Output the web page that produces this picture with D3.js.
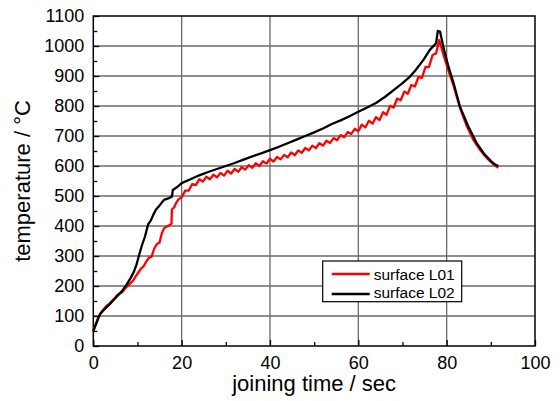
<!DOCTYPE html>
<meta charset="utf-8">
<script src="https://d3js.org/d3.v7.min.js"></script>
<style>
  body { margin: 0; background: #fff; }
  text { font-family: Arial, "Liberation Sans", sans-serif; fill: #000; }
</style>
<div id="my_dataviz"></div>
<script>
// surface L01 (red) - time in sec, temperature in degC
var timeL01 = [0, 0.5, 1, 1.5, 2.3, 3, 3.6, 4.2, 4.8, 5.3, 6, 6.6, 7.2, 7.8, 8.3, 9, 9.6, 10.2, 10.8, 11.4, 12, 12.6, 13.2, 13.8, 14.4, 15, 15.5, 16, 16.6, 17.2, 17.7, 17.8, 18.3, 18.8, 19.2, 19.6,
  20.0, 20.8, 21.6, 22.4, 23.2, 24.0, 24.8, 25.6, 26.4, 27.2, 28.0, 28.8, 29.6, 30.4, 31.2, 32.0, 32.8, 33.6, 34.4, 35.2, 36.0, 36.8, 37.6, 38.4, 39.2,
  40.0, 40.8, 41.6, 42.4, 43.2, 44.0, 44.8, 45.6, 46.4, 47.2, 48.0, 48.8, 49.6, 50.4, 51.2, 52.0, 52.8, 53.6, 54.4, 55.2, 56.0, 56.8, 57.6, 58.4, 59.2,
  60.0, 60.8, 61.6, 62.4, 63.2, 64.0, 64.8, 65.6, 66.4, 67.2, 68.0, 68.8, 69.6, 70.4, 71.2, 72.0, 72.8, 73.6, 74.4, 75.2, 76.0, 76.8, 77.6,
  78.0, 78.3, 78.6, 79.5, 80.4, 81.5, 83, 84.5, 86, 87.5, 89, 90.6, 91.3, 91.7];
var tempL01 = [50, 72, 90, 105, 122, 134, 140, 150, 158, 168, 175, 180, 192, 200, 208, 218, 232, 245, 258, 266, 282, 294, 298, 325, 340, 345, 375, 392, 398, 402, 408, 455, 462, 478, 487, 492,
  496, 518, 518, 540, 536, 556, 548, 564, 556, 571, 562, 577, 568, 584, 575, 590, 581, 596, 588, 603, 594, 609, 600, 616, 608,
  624, 615, 630, 622, 637, 629, 645, 636, 652, 644, 660, 652, 668, 660, 676, 668, 684, 677, 693, 686, 703, 696, 713, 707, 724,
  716, 738, 729, 751, 741, 763, 753, 779, 771, 801, 795, 825, 819, 848, 841, 870, 865, 896, 894, 930, 930, 970, 975,
  1000, 1020, 1005, 960, 918, 870, 795, 735, 688, 655, 628, 605, 598, 594];

// surface L02 (black)
var timeL02 = [0, 0.6, 1.2, 1.6, 2.5, 3.5, 4.5, 5.5, 6.5, 7.6, 8.5, 9.2, 9.8, 10.4, 11, 11.7, 12.4, 13, 13.6, 14.2, 14.8, 15.5, 16.1, 17, 17.8, 18.0, 19, 20,
  22, 24, 26, 28, 30, 32, 34, 36, 38, 40, 42, 44, 46, 48, 50, 52, 54, 56, 58, 60, 62, 64, 66, 68, 70, 71.7, 73, 74.7, 76.2, 77.6,
  78.0, 78.5, 79.2, 80.4, 81.5, 83, 84.8, 86.8, 88.5, 90, 90.6, 91.2, 91.7];
var tempL02 = [50, 72, 95, 108, 122, 136, 152, 168, 183, 206, 228, 248, 272, 305, 335, 365, 405, 418, 438, 455, 465, 478, 488, 492, 498, 520, 530, 543,
  556, 569, 580, 590, 600, 610, 621, 632, 642, 653, 664, 676, 688, 700, 712, 725, 740, 752, 766, 781, 795, 810, 830, 853, 876, 898, 920, 953, 987, 1009,
  1050, 1048, 1000, 931, 880, 798, 735, 676, 640, 617, 609, 603, 600];

var xTicks = [0, 20, 40, 60, 80, 100];
var yTicks = [0, 100, 200, 300, 400, 500, 600, 700, 800, 900, 1000, 1100];
var seriesNames = ["surface L01", "surface L02"];
var seriesColors = ["#ff0000", "#000000"];

var W = 560, H = 401;
var margin = {top: 16, right: 25, bottom: 55, left: 93.3};
var width = 535 - margin.left, height = 346 - margin.top;

var svg = d3.select("#my_dataviz").append("svg")
    .attr("width", W).attr("height", H)
  .append("g")
    .attr("transform", "translate(" + margin.left + "," + margin.top + ")");

var x = d3.scaleLinear().domain([0, 100]).range([0, width]);
var y = d3.scaleLinear().domain([0, 1100]).range([height, 0]);

// grid
svg.append("g").selectAll("line").data(xTicks.slice(1, -1)).enter().append("line")
  .attr("x1", d => x(d)).attr("x2", d => x(d)).attr("y1", 0).attr("y2", height)
  .attr("stroke", "#6a6a6a").attr("stroke-width", 1.3);
svg.append("g").selectAll("line").data(yTicks.slice(1, -1)).enter().append("line")
  .attr("y1", d => y(d)).attr("y2", d => y(d)).attr("x1", 0).attr("x2", width)
  .attr("stroke", "#6a6a6a").attr("stroke-width", 1.3);

// axes with inward ticks
var xAxis = svg.append("g").attr("transform", "translate(0," + height + ")")
  .call(d3.axisBottom(x).tickValues(xTicks).tickSize(-6).tickPadding(10).tickFormat(d3.format("d")));
var xMinor = svg.append("g").attr("transform", "translate(0," + height + ")")
  .call(d3.axisBottom(x).tickValues(d3.range(10, 100, 20)).tickSize(-4).tickFormat(""));
var yAxis = svg.append("g")
  .call(d3.axisLeft(y).tickValues(yTicks).tickSize(-6).tickPadding(9).tickFormat(d3.format("d")));
var yMinor = svg.append("g")
  .call(d3.axisLeft(y).tickValues(d3.range(50, 1100, 100)).tickSize(-4).tickFormat(""));
[xAxis, xMinor, yAxis, yMinor].forEach(function(a) {
  a.select(".domain").remove();
  a.selectAll("line").attr("stroke", "#000").attr("stroke-width", 1.3);
  a.selectAll("text").style("font-size", "18px").style("font-family", "Arial, 'Liberation Sans', sans-serif");
});

// frame
svg.append("rect").attr("width", width).attr("height", height)
  .attr("fill", "none").attr("stroke", "#000").attr("stroke-width", 1.5);

var line = d3.line().x(d => x(d[0])).y(d => y(d[1]));
var dataL01 = timeL01.map((t, i) => [t, tempL01[i]]);
var dataL02 = timeL02.map((t, i) => [t, tempL02[i]]);

svg.append("path").datum(dataL01).attr("d", line)
  .attr("fill", "none").attr("stroke", seriesColors[0]).attr("stroke-width", 2.3).attr("stroke-linejoin", "round");
svg.append("path").datum(dataL02).attr("d", line)
  .attr("fill", "none").attr("stroke", seriesColors[1]).attr("stroke-width", 2.3).attr("stroke-linejoin", "round");

// axis titles
svg.append("text").attr("x", width / 2).attr("y", height + 45)
  .attr("text-anchor", "middle").style("font-size", "22px").text("joining time / sec");
svg.append("text").attr("transform", "translate(" + (-63) + "," + (height / 2) + ") rotate(-90)")
  .attr("text-anchor", "middle").style("font-size", "22px").text("temperature / °C");

// legend
var lg = svg.append("g").attr("transform", "translate(" + (322.7 - margin.left) + "," + (261 - margin.top) + ")");
lg.append("rect").attr("width", 139).attr("height", 40.7)
  .attr("fill", "#fff").attr("stroke", "#000").attr("stroke-width", 1.2);
seriesNames.forEach(function(n, i) {
  lg.append("line").attr("x1", 9).attr("x2", 47).attr("y1", 13 + i * 20).attr("y2", 13 + i * 20)
    .attr("stroke", seriesColors[i]).attr("stroke-width", 2.3);
  lg.append("text").attr("x", 51).attr("y", 18.5 + i * 18).style("font-size", "15.5px").text(n);
});
</script>
